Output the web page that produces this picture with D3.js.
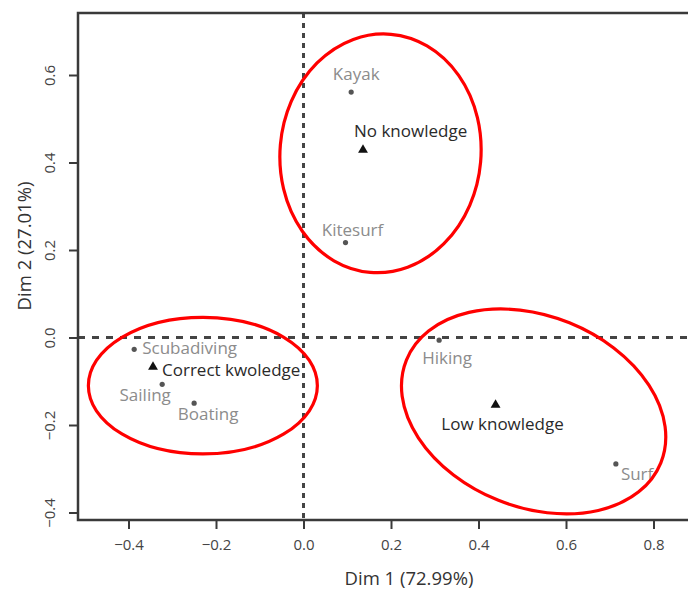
<!DOCTYPE html>
<html><head><meta charset="utf-8">
<script src="https://cdn.jsdelivr.net/npm/d3@7"></script>
<style>
body{margin:0;background:#fff}
svg{display:block}
text{font-family:"Open Sans",sans-serif}
</style>
</head><body><svg id="c" width="688" height="589"></svg>
<script>
// ---- data ----
const activities   = ["Kayak","Kitesurf","Scubadiving","Sailing","Boating","Hiking","Surf"];
const activityDim1 = [0.109, 0.096, -0.387, -0.323, -0.250, 0.310, 0.714];
const activityDim2 = [0.561, 0.217, -0.027, -0.107, -0.150, -0.006, -0.289];
const knowledgeLevels = ["No knowledge","Correct kwoledge","Low knowledge"];
const knowledgeDim1   = [0.136, -0.344, 0.439];
const knowledgeDim2   = [0.429, -0.067, -0.154];
const xTicks = [-0.4, -0.2, 0.0, 0.2, 0.4, 0.6, 0.8];
const yTicks = [-0.4, -0.2, 0.0, 0.2, 0.4, 0.6];
const xTitle = "Dim 1 (72.99%)";
const yTitle = "Dim 2 (27.01%)";
// highlighted groups (ellipses, in data units)
const groupCx    = [0.176, -0.230, 0.526];
const groupCy    = [0.421, -0.110, -0.169];
const groupRx    = [0.2297, 0.2617, 0.3136];
const groupRy    = [0.2731, 0.1561, 0.2185];
const groupAngle = [5, 0, 22];

// ---- layout (label placement, px) ----
const labelPos = {
  "Kayak":        {dx: 5,  dy: -12, anchor: "middle"},
  "Kitesurf":     {dx: 7,  dy: -7,  anchor: "middle"},
  "Scubadiving":  {dx: 8,  dy: 5,   anchor: "start"},
  "Sailing":      {dx: -17,dy: 17,  anchor: "middle"},
  "Boating":      {dx: 14, dy: 17,  anchor: "middle"},
  "Hiking":       {dx: 8,  dy: 24,  anchor: "middle"},
  "Surf":         {dx: 5,  dy: 16,  anchor: "start"},
  "No knowledge": {dx: -9, dy: -13, anchor: "start"},
  "Correct kwoledge": {dx: 9, dy: 9, anchor: "start"},
  "Low knowledge":{dx: 7,  dy: 25,  anchor: "middle"}
};

const L = 78, R = 700, T = 13, B = 520;
const x = d3.scaleLinear().domain([(L-303.5)/437.5, (R-303.5)/437.5]).range([L, R]);
const y = d3.scaleLinear().domain([(337.5-B)/437.5, (337.5-T)/437.5]).range([B, T]);

const svg = d3.select("#c");

// dashed reference lines
svg.append("line").attr("x1", x(0)).attr("x2", x(0)).attr("y1", T).attr("y2", B)
  .attr("stroke", "#444").attr("stroke-width", 3).attr("stroke-dasharray", "5,5");
svg.append("line").attr("x1", L).attr("x2", R).attr("y1", y(0)).attr("y2", y(0))
  .attr("stroke", "#444").attr("stroke-width", 3).attr("stroke-dasharray", "7,7");

// box
svg.append("path").attr("d", `M${R},${T}H${L}V${B}H${R}`)
  .attr("fill", "none").attr("stroke", "#3a3a3a").attr("stroke-width", 2.5);

// axes
const fmt = d3.format(".1f");
const gx = svg.append("g").attr("transform", `translate(0,${B})`)
  .call(d3.axisBottom(x).tickValues(xTicks).tickFormat(fmt).tickSize(9).tickPadding(10));
gx.select(".domain").remove();
gx.selectAll(".tick line").attr("stroke", "#3a3a3a").attr("stroke-width", 2);
gx.selectAll(".tick text").attr("font-size", 15).attr("fill", "#444")
  .style("font-family", '"Open Sans",sans-serif');

const gy = svg.append("g").attr("transform", `translate(${L},0)`)
  .call(d3.axisLeft(y).tickValues(yTicks).tickFormat(fmt).tickSize(9));
gy.select(".domain").remove();
gy.selectAll(".tick line").attr("stroke", "#3a3a3a").attr("stroke-width", 2);
gy.selectAll(".tick text").attr("font-size", 15).attr("fill", "#444")
  .style("font-family", '"Open Sans",sans-serif')
  .attr("transform", "rotate(-90)").attr("x", 0).attr("y", -28).attr("dy", "0.35em")
  .style("text-anchor", "middle");

// axis titles
svg.append("text").attr("x", 409).attr("y", 585).attr("text-anchor", "middle")
  .attr("font-size", 18.5).attr("fill", "#333").text(xTitle);
svg.append("text").attr("transform", "translate(31,246) rotate(-90)").attr("text-anchor", "middle")
  .attr("font-size", 18.5).attr("fill", "#333").text(yTitle);

// activity points
const acts = activities.map((n, i) => ({name: n, d1: activityDim1[i], d2: activityDim2[i]}));
svg.append("g").selectAll("circle").data(acts).join("circle")
  .attr("cx", d => x(d.d1)).attr("cy", d => y(d.d2)).attr("r", 2.6).attr("fill", "#555");
svg.append("g").selectAll("text").data(acts).join("text")
  .attr("x", d => x(d.d1) + labelPos[d.name].dx).attr("y", d => y(d.d2) + labelPos[d.name].dy)
  .attr("text-anchor", d => labelPos[d.name].anchor)
  .attr("font-size", 17).attr("fill", "#8c8c8c").text(d => d.name);

// knowledge points
const kn = knowledgeLevels.map((n, i) => ({name: n, d1: knowledgeDim1[i], d2: knowledgeDim2[i]}));
svg.append("g").selectAll("path").data(kn).join("path")
  .attr("d", d3.symbol(d3.symbolTriangle, 42))
  .attr("transform", d => `translate(${x(d.d1)},${y(d.d2)})`).attr("fill", "#111");
svg.append("g").selectAll("text").data(kn).join("text")
  .attr("x", d => x(d.d1) + labelPos[d.name].dx).attr("y", d => y(d.d2) + labelPos[d.name].dy)
  .attr("text-anchor", d => labelPos[d.name].anchor)
  .attr("font-size", 17).attr("fill", "#2a2a2a").text(d => d.name);

// group ellipses
const groups = groupCx.map((c, i) => ({cx: c, cy: groupCy[i], rx: groupRx[i], ry: groupRy[i], a: groupAngle[i]}));
svg.append("g").selectAll("ellipse").data(groups).join("ellipse")
  .attr("transform", d => `translate(${x(d.cx)},${y(d.cy)}) rotate(${d.a})`)
  .attr("rx", d => x(d.rx) - x(0)).attr("ry", d => y(0) - y(d.ry))
  .attr("fill", "none").attr("stroke", "#f00").attr("stroke-width", 3.2);
</script>
</body></html>
